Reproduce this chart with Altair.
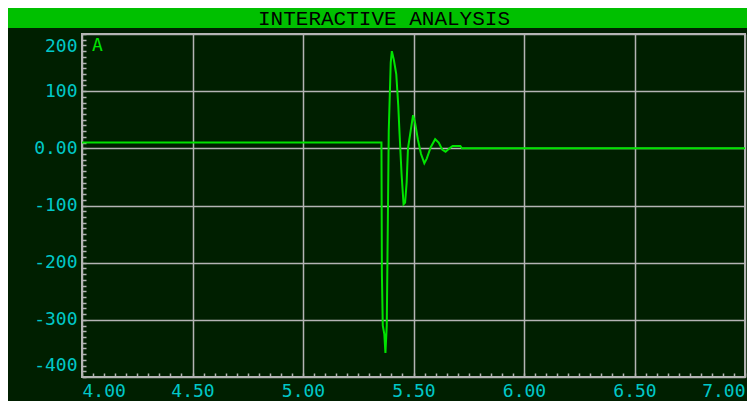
import altair as alt
import pandas as pd

title_text = "INTERACTIVE ANALYSIS"
trace_label = "A"

# waveform samples (time, amplitude)
t = [4.00, 5.355, 5.357, 5.361, 5.368, 5.373, 5.379, 5.384, 5.388, 5.397,
     5.402, 5.411, 5.422, 5.431, 5.437, 5.446, 5.455, 5.462, 5.469, 5.475,
     5.487, 5.498, 5.507, 5.520, 5.534, 5.549, 5.560, 5.578, 5.598, 5.614,
     5.630, 5.645, 5.663, 5.677, 5.712, 5.719, 7.00]
v = [10, 10, -220, -310, -325, -358, -310, -125, 30, 150,
     170, 155, 130, 75, 25, -45, -98, -95, -60, 0,
     30, 58, 45, 15, -10, -26, -18, 2, 16, 10,
     -2, -6, 0, 4, 4, 0, 0]

x_ticks = [4.0, 4.5, 5.0, 5.5, 6.0, 6.5, 7.0]
y_ticks = [-400, -300, -200, -100, 0, 100, 200]
x_minor = [round(4 + 0.05 * i, 2) for i in range(61)]
y_minor = list(range(-400, 201, 10))

PAD_L, PAD_T, PAD_R, PAD_B = 74, 26, 2, 24
W, H = 663, 343
BG = "#001f00"
GRID = "#b4b4b4"
LABEL = "#00c8c8"
TRACE = "#00e400"
BAR = "#00c000"
FONT = "DejaVu Sans Mono"

df = pd.DataFrame({"t": t, "v": v})
x_scale = alt.Scale(domain=[4, 7], nice=False, zero=False)
y_scale = alt.Scale(domain=[-400, 200], nice=False, zero=False)

line = alt.Chart(df).mark_line(color=TRACE, strokeWidth=2).encode(
    x=alt.X("t:Q", scale=x_scale, axis=alt.Axis(
        values=x_ticks, format=".2f", title=None, grid=True, gridColor=GRID,
        gridWidth=1.5, gridOpacity=1, ticks=False, domain=False, labelFlush=True,
        labelPadding=5, labelFont=FONT, labelFontSize=18, labelColor=LABEL)),
    y=alt.Y("v:Q", scale=y_scale, axis=alt.Axis(
        values=y_ticks, labelExpr="datum.value == 0 ? '0.00' : '' + datum.value",
        title=None, grid=True, gridColor=GRID, gridWidth=1.5, gridOpacity=1,
        ticks=False, domain=False, labelFlush=True, labelFlushOffset=-3,
        labelPadding=5, labelFont=FONT, labelFontSize=18, labelColor=LABEL)),
)

minor = alt.Chart(df).mark_line(opacity=0).encode(
    x=alt.X("t:Q", scale=x_scale, axis=alt.Axis(
        orient="top", offset=-H, values=x_minor, labels=False, domain=False,
        grid=False, ticks=True, tickSize=4, tickColor=GRID, tickWidth=1.5, title=None)),
    y=alt.Y("v:Q", scale=y_scale, axis=alt.Axis(
        orient="right", offset=-W, values=y_minor, labels=False, domain=False,
        grid=False, ticks=True, tickSize=4, tickColor=GRID, tickWidth=1.5, title=None)),
)

tdf = pd.DataFrame({"title": [title_text], "label": [trace_label]})
bar = alt.Chart(tdf).mark_rect(color=BAR).encode(
    x=alt.value(-PAD_L), x2=alt.value(W + PAD_R), y=alt.value(-PAD_T), y2=alt.value(-6))
title = alt.Chart(tdf).mark_text(font="Liberation Mono", fontSize=21, color="#000000",
                                 align="center", baseline="middle").encode(
    x=alt.value(302), y=alt.value(-15), text="title:N")
label_a = alt.Chart(tdf).mark_text(font=FONT, fontSize=18, color=TRACE,
                                   align="left", baseline="top").encode(
    x=alt.value(10), y=alt.value(3), text="label:N")

chart = alt.layer(line, minor, bar, title, label_a).resolve_scale(
    x="independent", y="independent"
).properties(
    width=W, height=H,
    padding={"left": PAD_L, "top": PAD_T, "right": PAD_R, "bottom": PAD_B},
    autosize=alt.AutoSizeParams(type="none"),
    background=BG,
).configure_view(stroke=GRID, strokeWidth=2)

chart.save("out.html", embed_options={"renderer": "svg", "actions": False})
